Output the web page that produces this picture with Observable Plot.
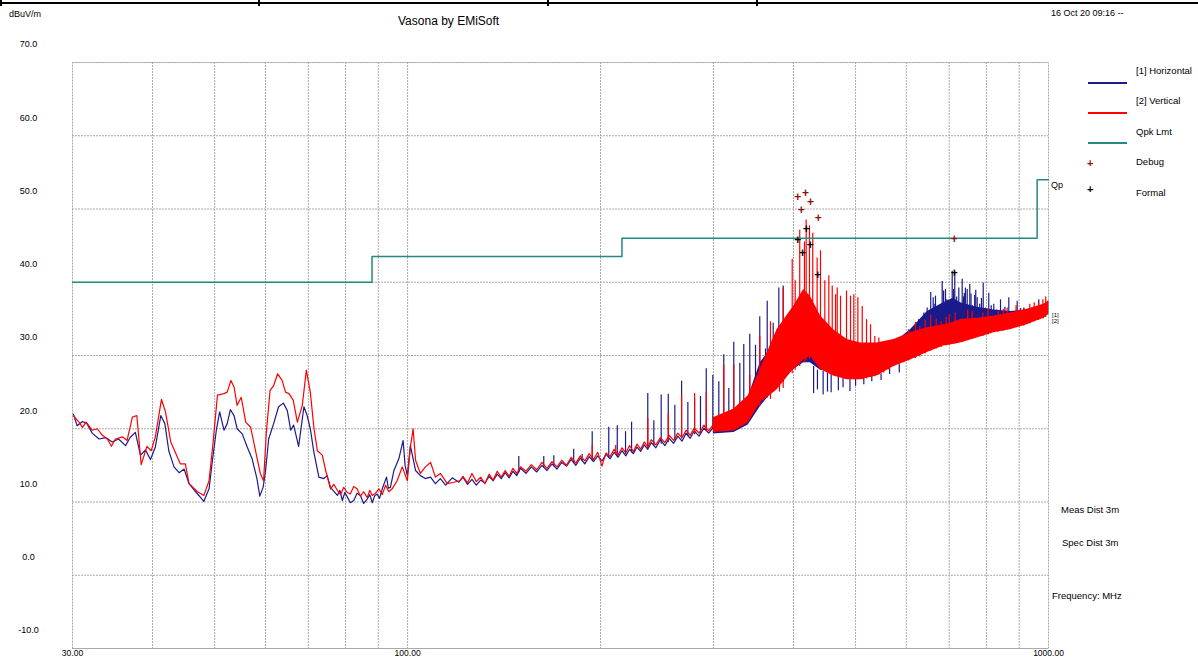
<!DOCTYPE html>
<html><head><meta charset="utf-8">
<script src="https://cdn.jsdelivr.net/npm/d3@7"></script>
<script src="https://cdn.jsdelivr.net/npm/@observablehq/plot@0.6"></script>
<style>
body{margin:0;background:#fff;font-family:"Liberation Sans",Arial,sans-serif;}
#wrap{position:relative;width:1198px;height:658px;overflow:hidden;background:#fff;}
#wrap svg{position:absolute;left:0;top:0;}
.t{position:absolute;white-space:nowrap;color:#000;font-size:10px;line-height:1;transform:translateY(-50%);}
.lg{position:absolute;height:1px;width:39px;left:1088px;}
.bar{position:absolute;background:#000;}
</style></head><body><div id="wrap"></div>
<script>
// ---- data ----
const hF = [30.1,30.5,31.1,31.6,32.2,33.0,33.8,34.6,35.4,36.3,
36.9,37.6,38.3,39.0,39.7,40.4,41.2,41.8,42.4,43.2,
44.0,44.8,45.6,46.7,48.1,49.0,49.6,50.3,50.9,51.7,
52.3,52.9,53.6,54.2,55.2,56.2,57.2,58.2,58.8,59.5,
60.0,60.7,61.8,62.9,64.0,64.9,65.7,66.4,67.6,68.9,
69.7,70.5,71.4,72.7,74.0,74.9,75.8,77.7,78.4,79.1,
79.8,80.5,81.4,82.4,83.4,84.4,85.4,86.5,87.3,88.1,
88.8,89.6,90.4,91.3,92.7,93.3,94.0,95.2,96.9,98.4,
99.1,99.9,101.0,102.9,104.7,106.6,108.6,110.5,112.5,114.6,
117.4,120.2,122,124,126,128,130,132,134,136,
138,140,142,144,146,148,150,153,156,159,
162,165,168,171,174,177,180,183,186,189,
192,195,198,201,204,207,210,213,216,219,
222,225,228,231,234,237,240,244,248,252,
256,260,264,268,272,276,280,285,290,295,
300];
const hV = [22.0,20.4,21.0,20.7,19.4,18.6,18.8,18.2,18.6,17.7,
18.8,19.5,16.4,17.1,15.8,17.5,21.8,20.7,17.0,14.8,
14.0,14.5,12.5,11.4,10.1,11.8,15.7,19.8,22.3,19.8,
20.7,22.6,21.8,20.0,19.3,17.5,15.9,13.2,10.8,12.0,
14.1,18.6,20.7,23.0,23.5,22.5,19.8,20.5,17.6,23.0,
21.8,20.0,16.8,13.4,13.2,13.6,12.0,10.9,11.6,10.2,
11.3,10.7,9.9,10.2,11.2,10.9,9.8,10.4,11.0,9.9,
10.8,11.1,10.5,11.8,13.4,11.9,12.0,14.3,15.9,18.4,
15.0,13.6,17.7,14.3,13.6,13.2,13.4,12.5,13.2,12.3,
13.3,12.7,13.4,12.4,13.1,12.3,13.0,12.6,13.5,12.9,
13.8,13.2,14.0,13.3,14.2,13.6,14.6,13.9,14.8,14.1,
15.0,14.3,15.2,14.5,15.4,14.9,15.8,15.0,16.0,15.2,
16.2,15.5,16.3,15.6,16.5,15.9,16.8,16.1,17.0,16.3,
17.2,16.6,17.5,16.9,17.8,17.2,18.1,17.4,18.5,17.7,
18.7,18.0,19.0,18.3,19.4,18.7,19.7,19.0,20.1,19.4,
20.2];

const vF = [30.1,30.7,31.1,31.5,32.2,32.8,33.4,34.0,34.5,35.0,
35.9,36.5,37.2,37.8,38.4,39.2,39.8,40.4,41.3,41.9,
42.7,43.4,44.2,45.0,45.6,47.0,48.1,49.0,49.7,50.5,
51.7,52.3,53.0,53.6,54.2,55.0,55.9,56.9,57.9,58.9,
59.6,60.2,61.0,61.8,62.7,63.7,64.5,65.3,66.3,67.3,
68.5,69.5,70.5,71.4,72.3,73.6,74.5,75.8,76.7,77.7,
78.6,79.5,80.5,81.4,82.4,83.4,84.4,85.4,86.5,87.3,
88.1,89.1,90.2,91.3,92.4,93.5,94.6,96.3,98.1,99.9,
101.0,102.0,102.9,104.7,106.6,108.6,110.5,112.5,115.3,118.1,
120.6,122,124,126,128,130,132,134,136,138,
140,142,144,146,148,150,153,156,159,162,
165,168,171,174,177,180,183,186,189,192,
195,198,201,204,207,210,213,216,219,222,
225,228,231,234,237,240,244,248,252,256,
260,264,268,272,276,280,285,290,295,300];
const vV = [21.8,20.9,20.2,20.9,19.8,20.0,19.1,18.6,17.6,18.6,
18.9,18.4,21.6,21.8,15.1,17.6,17.0,18.9,24.0,22.3,
18.2,16.8,15.2,15.2,12.5,11.4,10.9,12.9,18.0,24.6,
24.8,25.0,26.6,25.7,23.2,24.3,20.9,20.2,17.0,13.9,
12.9,19.5,25.2,25.9,27.5,26.6,25.0,24.8,23.9,20.9,
23.2,28.0,25.0,20.2,17.0,16.4,14.3,11.8,12.4,11.6,
11.0,12.0,11.3,11.1,12.1,11.8,10.8,11.4,10.6,11.6,
10.9,11.2,11.8,11.0,12.3,11.4,11.8,12.9,14.8,12.9,
17.5,20.0,15.7,13.9,14.8,15.4,13.4,13.9,12.5,12.7,
12.9,13.5,12.6,13.9,12.8,13.4,12.5,13.8,13.0,14.2,
13.4,14.3,13.5,14.6,13.9,14.8,14.2,15.1,14.4,15.4,
14.6,15.5,14.8,15.7,15.0,16.1,15.3,16.3,15.6,16.6,
15.8,16.8,14.9,16.7,16.2,17.2,16.4,17.4,16.7,17.7,
16.9,17.9,17.2,18.2,17.5,18.5,17.8,18.8,18.1,19.1,
18.4,19.4,18.8,19.8,19.1,20.1,19.4,20.5,19.7,20.6];

// dense upper band (envelope of the trace)
const bandF = [300,323,340,355,377,400,415,425,441,462,485,509,540,574,609,647,686,710,729,774,822,872,926,983,1000];
const vLo = [19.5,19.7,20.8,23.5,25.3,28.1,29.4,29.9,28.1,27.2,26.7,26.7,27.2,28.5,29.4,30.4,31.3,31.5,31.7,32.4,33.1,33.5,34.2,35.1,35.6];
const vHi = [21.5,22.7,24.5,28.1,33.5,36.7,39.0,38.1,35.4,33.5,32.2,31.7,31.7,32.2,33.1,33.8,34.2,34.5,34.9,35.1,35.4,35.8,36.3,37.0,37.4];
const hLo = [19.3,19.5,20.5,23.0,25.8,28.1,29.0,29.0,28.0,27.6,27.2,27.2,27.6,28.8,29.6,31.0,31.8,32.2,32.4,33.0,33.4,33.8,34.6,35.1,35.6];
const hHi = [21.2,22.5,24.3,29.0,32.0,33.9,34.5,33.0,30.3,29.9,29.9,29.4,30.4,31.7,33.5,36.0,37.2,37.8,37.2,36.6,36.2,36.0,36.2,36.8,37.4];

// harmonic spikes and dips: frequency, lower end, upper end
const hSpF = [149.1,163.1,169.1,181.6,187.2,194.1,206.0,212.4,218.8,223.6,
237.0,242.2,248.7,255.1,261.2,267.6,273.7,280.4,286.4,292.4,
299.4,305.9,311.4,317.1,322.8,329.9,334.6,341.9,349.0,354.4,
361.8,364.0,371.9,379.5,385.5,594.7,616.4,627.5,638.9,646.7,
660.8,666.3,682.5,690.7,707.5,714.1,724.5,733.4,746.7,753.7,
774.0,790.9,806.9,821.6,841.6,867.1,893.6,915.1,937.3,965.7,
997.5,600,605,622,633,652,672,677,697,702,
719,728,739,760,767,781,798,814,830,855,
880,905,926,950,980,430,436,445,452,458,
470,478,490,500,515,530,548,565,585,655,
663,686,694,711,737,742,757,770,786];
const hSpB = [14.0,14.6,14.8,15.3,15.5,15.6,16.0,16.2,16.5,16.7,
17.3,17.6,17.9,18.1,18.4,18.6,18.9,19.2,19.4,19.7,
19.9,20.2,20.4,20.7,21.0,21.4,21.7,22.3,23.0,23.5,
24.0,24.2,25.0,25.8,26.3,29.0,29.6,30.0,30.5,31.0,
31.5,31.7,32.0,32.2,32.5,32.6,32.6,32.7,32.9,33.0,
33.1,33.2,33.4,33.5,33.6,33.8,34.1,34.4,34.6,35.0,
35.6,29.2,29.3,29.8,30.2,31.0,31.8,31.9,32.3,32.4,
32.6,32.6,32.8,33.0,33.0,33.1,33.3,33.4,33.5,33.7,
34.0,34.2,34.5,34.8,35.2,24.8,25.3,24.6,25.0,24.9,
25.2,25.6,25.1,25.8,26.0,26.4,26.6,27.4,27.6,31.2,
31.5,32.1,32.2,32.5,32.8,32.9,33.0,33.1,33.2];
const hSpT = [16.2,16.2,16.3,17.2,16.5,19.6,20.2,20.4,19.6,20.9,
24.8,21.1,24.6,24.7,23.2,26.5,23.6,24.1,24.4,28.2,
27.3,26.4,30.1,25.5,31.8,28.9,31.5,32.9,31.4,35.3,
30.9,37.4,34.4,39.2,39.5,32.6,33.8,34.9,35.8,36.5,
37.9,38.1,40.1,39.0,41.5,41.5,39.2,40.4,39.0,39.7,
37.9,39.9,38.5,37.0,37.6,37.9,37.4,36.5,36.0,37.6,
37.4,33.0,32.0,33.2,34.0,35.0,36.5,35.5,37.2,36.0,
38.0,37.0,38.5,36.8,38.2,37.0,36.5,36.8,36.2,36.6,
36.0,36.4,35.8,36.6,36.8,28.5,28.0,27.8,27.6,27.4,
27.3,27.0,27.0,27.0,27.0,27.2,27.5,28.2,28.8,38.6,
37.0,38.8,37.6,39.0,38.0,39.2,38.4,38.9,37.8];
const vSpF = [194.1,211.2,237.0,255.1,267.6,280.4,292.4,311.4,322.8,341.9,
354.4,368.3,380.4,385.5,398.2,402.5,409.1,416.1,418.7,423.7,
428.7,435.5,440.8,447.7,454.2,459.8,465.3,468.1,473.7,484.0,
491.0,496.9,504.1,512.1,520.1,527.6,535.8,543.6,553.4,563.5,
573.7,584.1,620,655,700,760,850,950,990,605,
630,642,668,680,692,715,735,748,790,805,
835,862,890,915,935,965,980];
const vSpB = [15.8,16.4,17.5,18.3,18.8,19.3,19.6,20.0,20.5,21.8,
23.0,24.0,25.0,25.5,27.5,28.0,28.5,29.0,29.2,29.5,
29.5,29.0,28.5,28.0,27.8,27.5,27.3,27.2,27.0,26.8,
26.8,26.7,26.7,26.7,26.8,27.0,27.1,27.3,27.6,28.0,
28.5,28.8,29.6,30.6,31.4,32.2,33.3,34.6,35.2,29.3,
29.8,30.2,30.9,31.1,31.3,31.6,31.8,32.0,32.6,32.8,
33.2,33.5,33.8,34.0,34.3,34.8,35.0];
const vSpT = [17.7,17.7,21.4,22.0,24.6,24.8,25.0,28.7,28.7,27.3,
32.6,34.6,32.6,39.2,43.1,40.2,47.1,45.5,48.5,47.7,
46.7,43.3,44.3,40.2,40.9,39.5,38.3,39.2,38.1,38.8,
38.1,38.3,37.9,36.7,34.9,34.2,32.6,32.4,31.9,31.7,
32.2,31.9,34.5,35.5,35.6,36.0,36.3,37.2,38.0,33.5,
34.0,34.8,35.0,34.6,35.2,35.8,35.0,36.2,35.8,36.4,
36.0,36.5,36.8,36.4,37.0,37.2,37.6];

// limit line
const limF = [30,88,216,960,1000];
const limV = [40,43.5,46,54,54];

// markers
const debugF = [406.2,417.6,425.2,411.2,437.1,712.6];
const debugV = [51.6,52.2,50.9,49.9,48.8,45.9];
const formalF = [406.2,418.7,413.1,424.7,436.5,712.6];
const formalV = [45.8,47.2,44.0,45.1,41.0,41.3];

// axes
const yTicks = [-10,0,10,20,30,40,50,60,70];
const xGrid = [40,50,60,70,80,90,100,200,300,400,500,600,700,800,900];
const xLabels = [30,100,1000];

// ---- build ----
const BLUE = "#1b1b8c", RED = "#ff0000", TEAL = "#24897f";
const hLine = hF.map((f,i)=>({f, v:hV[i]}));
const vLine = vF.map((f,i)=>({f, v:vV[i]}));
const hBand = bandF.map((f,i)=>({f, lo:hLo[i], hi:hHi[i]}));
const vBand = bandF.map((f,i)=>({f, lo:vLo[i], hi:vHi[i]}));
const hSp = hSpF.map((f,i)=>({f, b:hSpB[i], t:hSpT[i]}));
const vSp = vSpF.map((f,i)=>({f, b:vSpB[i], t:vSpT[i]}));
const lim = limF.map((f,i)=>({f, v:limV[i]}));
const dbg = debugF.map((f,i)=>({f, v:debugV[i]}));
const frm = formalF.map((f,i)=>({f, v:formalV[i]}));

const grid = {stroke:"#a9a9a9", strokeDasharray:"2,1", strokeWidth:1};
const chart = Plot.plot({
  width:1198, height:658,
  marginLeft:72, marginRight:150, marginTop:62, marginBottom:10,
  style:{fontFamily:"'Liberation Sans', Arial, sans-serif", fontSize:"10px", background:"transparent", overflow:"visible"},
  x:{type:"log", domain:[30,1000]},
  y:{domain:[-10,70]},
  marks:[
    Plot.ruleX(xGrid, grid),
    Plot.ruleY(yTicks, grid),
    Plot.frame(grid),
    Plot.axisY(yTicks, {tickSize:0, tickPadding:44, textAnchor:"middle", dy:-18, tickFormat:d=>d.toFixed(1), fontSize:9, label:null}),
    Plot.axisX(xLabels, {tickSize:0, tickPadding:1, tickFormat:d=>d.toFixed(2), fontSize:8.5, label:null}),
    Plot.line(hLine, {x:"f", y:"v", stroke:BLUE, strokeWidth:1.2}),
    Plot.areaY(hBand, {x:"f", y1:"lo", y2:"hi", fill:BLUE}),
    Plot.ruleX(hSp, {x:"f", y1:"b", y2:"t", stroke:BLUE, strokeWidth:1.2}),
    Plot.line(vLine, {x:"f", y:"v", stroke:RED, strokeWidth:1.2}),
    Plot.areaY(vBand, {x:"f", y1:"lo", y2:"hi", fill:RED}),
    Plot.ruleX(vSp, {x:"f", y1:"b", y2:"t", stroke:RED, strokeWidth:1.2}),
    Plot.line(lim, {x:"f", y:"v", stroke:TEAL, strokeWidth:1.5, curve:"step-after"}),
    Plot.text(dbg, {x:"f", y:"v", text:()=>"+", fill:"#8b1010", fontSize:12, fontWeight:"bold"}),
    Plot.text(frm, {x:"f", y:"v", text:()=>"+", fill:"#000", fontSize:12, fontWeight:"bold"})
  ]
});
const wrap = document.getElementById("wrap");
wrap.appendChild(chart);

function txt(s, x, y, opts={}) {
  const d = document.createElement("div");
  d.className = "t"; d.textContent = s;
  d.style.left = x + "px"; d.style.top = y + "px";
  Object.assign(d.style, opts);
  wrap.appendChild(d); return d;
}
function box(cls, x, y, w, h, color) {
  const d = document.createElement("div");
  d.className = cls;
  Object.assign(d.style, {left:x+"px", top:y+"px", width:w+"px", height:h+"px", background:color});
  wrap.appendChild(d);
}
// top frame line
box("bar", 0, 2, 1198, 2, "#000");
[0, 258, 547, 756].forEach(x => box("bar", x, 0, 2, 6, "#000"));

txt("dBuV/m", 9, 14, {fontSize:"9px"});
txt("Vasona by EMiSoft", 398, 21, {fontSize:"12px"});
txt("16 Oct 20 09:16 --", 1051, 13, {fontSize:"9px"});

// legend
const legend = [["[1] Horizontal", 71, 82, BLUE], ["[2] Vertical", 101, 112, RED], ["Qpk  Lmt", 132, 142, TEAL]];
legend.forEach(([s, ty, ly, c]) => { txt(s, 1136, ty, {fontSize:"9.5px"}); box("lg", 1088, ly, 39, 1.5, c); });
txt("+", 1087, 163, {fontSize:"11px", fontWeight:"bold", color:"#8b1010"});
txt("Debug", 1136, 162, {fontSize:"9.5px"});
txt("+", 1087, 189, {fontSize:"11px", fontWeight:"bold", color:"#000"});
txt("Formal", 1136, 193, {fontSize:"9.5px"});

txt("Qp", 1051, 185, {fontSize:"9px"});
txt("[1]", 1052, 315, {fontSize:"6px"});
txt("[2]", 1052, 321, {fontSize:"6px"});
txt("Meas  Dist  3m", 1061, 510, {fontSize:"9.5px"});
txt("Spec  Dist  3m", 1062, 543, {fontSize:"9.5px"});
txt("Frequency: MHz", 1052, 596, {fontSize:"9.5px"});
</script>
</body></html>
